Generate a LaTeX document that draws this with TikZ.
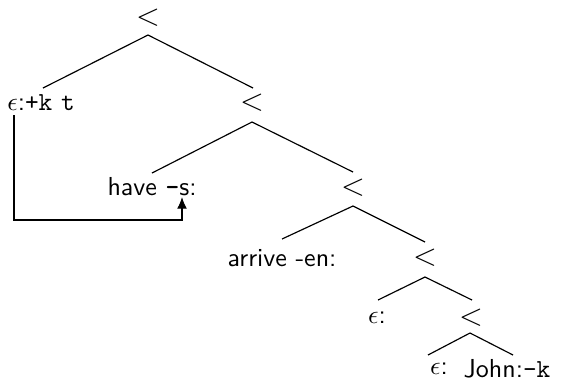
\documentclass[tikz,border=0pt]{standalone}
\usetikzlibrary{calc,arrows.meta}
\begin{document}
\begin{tikzpicture}[x=0.3846pt,y=-0.3846pt,
  lab/.style={inner sep=0pt,font=\sffamily},
  op/.style={inner sep=0pt,font=\fontsize{12.5}{14}\selectfont},
  edge/.style={line width=0.45pt},
  mv/.style={line width=0.45pt,-{Latex[length=4.5pt,width=3.8pt]}}]
\useasboundingbox (0,0) rectangle (561,382);
\node[op] (r0) at (148,18) {$<$};
\node[lab] (a1) at (41,103) {$\epsilon$:\texttt{+k} \texttt{t}};
\node[op] (r1) at (252,103) {$<$};
\node[lab] (a2) at (152,187) {have {\ttfamily\bfseries -}s:};
\node[op] (r2) at (353,188) {$<$};
\node[lab] (a3) at (282,258) {arrive -en:};
\node[op] (r3) at (425,258) {$<$};
\node[lab] (a4) at (377,318) {$\epsilon$:};
\node[op] (r4) at (471,318) {$<$};
\node[lab] (a5) at (439,369) {$\epsilon$:};
\node[lab] (a6) at (507,369) {John:\texttt{-k}};
\draw[edge] ($(r0)+(0,17)$) -- ($(a1)+(2,-15)$);
\draw[edge] ($(r0)+(0,17)$) -- ($(r1)+(1,-15)$);
\draw[edge] ($(r1)+(0,19)$) -- ($(a2)+(0,-14)$);
\draw[edge] ($(r1)+(0,19)$) -- ($(r2)+(0,-16)$);
\draw[edge] ($(r2)+(0,18)$) -- ($(a3)+(0,-19)$);
\draw[edge] ($(r2)+(0,18)$) -- ($(r3)+(0,-16)$);
\draw[edge] ($(r3)+(0,19)$) -- ($(a4)+(1,-18)$);
\draw[edge] ($(r3)+(0,19)$) -- ($(r4)+(1,-18)$);
\draw[edge] ($(r4)+(-1,15)$) -- ($(a5)+(-11,-14)$);
\draw[edge] ($(r4)+(-1,15)$) -- ($(a6)+(6,-14)$);
\coordinate (c1) at ($(a1)+(-27,117)$);
\draw[mv] ($(a1)+(-27,12)$) -- (c1) -| ($(a2)+(30,10)$);
\end{tikzpicture}
\end{document}
